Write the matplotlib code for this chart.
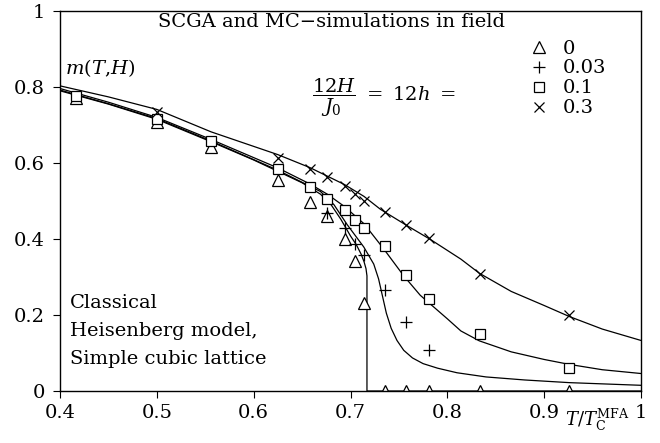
import numpy as np
import matplotlib
matplotlib.use('Agg')
import matplotlib.pyplot as plt

plt.rcParams['font.family'] = 'DejaVu Serif'
plt.rcParams['mathtext.fontset'] = 'dejavuserif'

# MC points, T/Tc^MFA
t_mc = [0.4167, 0.5, 0.5556, 0.625, 0.6579, 0.6757, 0.6944, 0.7042, 0.7143, 0.7353, 0.7576, 0.7813, 0.8333, 0.9259]
m_h0 = [0.770, 0.708, 0.641, 0.556, 0.497, 0.461, 0.400, 0.342, 0.232, 0.0, 0.0, 0.0, 0.0, 0.0]
m_h01 = [0.776, 0.717, 0.659, 0.584, 0.536, 0.505, 0.476, 0.451, 0.429, 0.381, 0.305, 0.241, 0.149, 0.061]

t_h003 = [0.6757, 0.6944, 0.7042, 0.7143, 0.7353, 0.7576, 0.7813]
m_h003 = [0.468, 0.429, 0.388, 0.357, 0.267, 0.182, 0.109]

t_h03 = [0.5, 0.625, 0.6579, 0.6757, 0.6944, 0.7042, 0.7143, 0.7353, 0.7576, 0.7813, 0.8333, 0.9259]
m_h03 = [0.735, 0.614, 0.583, 0.563, 0.539, 0.519, 0.500, 0.470, 0.438, 0.403, 0.308, 0.199]

# SCGA curves
sc_t0 = [0.4, 0.45, 0.5, 0.556, 0.6, 0.625, 0.65, 0.669, 0.68, 0.69, 0.70, 0.706, 0.711, 0.714, 0.716, 0.717, 0.717, 1.0]
sc_m0 = [0.790, 0.755, 0.715, 0.656, 0.608, 0.578, 0.548, 0.518, 0.490, 0.452, 0.408, 0.385, 0.360, 0.340, 0.322, 0.303, 0.0, 0.0]

sc_t003 = [0.4, 0.45, 0.5, 0.556, 0.625, 0.669, 0.683, 0.6965, 0.7137, 0.724, 0.729, 0.733, 0.737, 0.742, 0.748,
           0.755, 0.764, 0.775, 0.79, 0.81, 0.84, 0.88, 0.926, 1.0]
sc_m003 = [0.792, 0.756, 0.717, 0.658, 0.581, 0.525, 0.490, 0.438, 0.379, 0.334, 0.295, 0.250, 0.205, 0.165, 0.133,
           0.107, 0.087, 0.072, 0.060, 0.048, 0.037, 0.029, 0.022, 0.015]

sc_t01 = [0.4, 0.45, 0.5, 0.556, 0.625, 0.658, 0.676, 0.694, 0.714, 0.734, 0.755, 0.772, 0.781, 0.8, 0.814,
          0.833, 0.866, 0.9, 0.926, 0.96, 1.0]
sc_m01 = [0.796, 0.760, 0.720, 0.662, 0.587, 0.545, 0.518, 0.485, 0.440, 0.375, 0.303, 0.252, 0.232, 0.190, 0.158,
          0.132, 0.103, 0.083, 0.070, 0.056, 0.046]

sc_t03 = [0.4, 0.45, 0.5, 0.556, 0.625, 0.658, 0.694, 0.714, 0.731, 0.7585, 0.783, 0.814, 0.833, 0.866, 0.9,
          0.926, 0.96, 1.0]
sc_m03 = [0.803, 0.774, 0.741, 0.682, 0.622, 0.588, 0.543, 0.512, 0.478, 0.435, 0.398, 0.347, 0.310, 0.262, 0.225,
          0.196, 0.163, 0.133]

legend_labels = ['0', '0.03', '0.1', '0.3']

fig = plt.figure(figsize=(6.6, 4.43), dpi=100)
ax = fig.add_axes([60/660, 52/443, 581/660, 380/443])

lw = 0.9
for t, m in [(sc_t0, sc_m0), (sc_t003, sc_m003), (sc_t01, sc_m01), (sc_t03, sc_m03)]:
    ax.plot(t, m, color='black', lw=lw)

p0, = ax.plot(t_mc, m_h0, ls='none', marker='^', ms=8, mfc='white', mec='black', mew=0.9)
p1, = ax.plot(t_h003, m_h003, ls='none', marker='+', ms=9, mec='black', mew=0.9)
p2, = ax.plot(t_mc, m_h01, ls='none', marker='s', ms=6.5, mfc='white', mec='black', mew=0.9)
p3, = ax.plot(t_h03, m_h03, ls='none', marker='x', ms=7, mec='black', mew=0.9)

ax.set_xlim(0.4, 1.0)
ax.set_ylim(0, 1)
ax.set_xticks([0.4, 0.5, 0.6, 0.7, 0.8, 0.9, 1.0])
ax.set_xticklabels(['0.4', '0.5', '0.6', '0.7', '0.8', '0.9', '1'])
ax.set_yticks([0, 0.2, 0.4, 0.6, 0.8, 1.0])
ax.set_yticklabels(['0', '0.2', '0.4', '0.6', '0.8', '1'])
ax.tick_params(direction='out', length=5, width=0.8, labelsize=14)
ax.tick_params(axis='x', pad=4)
ax.tick_params(axis='y', pad=6)
for s in ax.spines.values():
    s.set_linewidth(1.0)

ax.text(0.68, 0.972, 'SCGA and MC\u2212simulations in field', ha='center', va='center', fontsize=14)
ax.text(0.405, 0.85, r'$m(T,\!H)$', ha='left', va='center', fontsize=14)
ax.text(0.66, 0.77, r'$\dfrac{12H}{J_0}\ =\ 12h\ =$', ha='left', va='center', fontsize=14)
ax.text(0.41, 0.232, 'Classical', ha='left', va='center', fontsize=14)
ax.text(0.41, 0.158, 'Heisenberg model,', ha='left', va='center', fontsize=14)
ax.text(0.41, 0.084, 'Simple cubic lattice', ha='left', va='center', fontsize=14)
ax.text(0.988, -0.042, r'$T/T_{\rm C}^{\rm MFA}$', ha='right', va='top', fontsize=13)

ax.legend([p0, p1, p2, p3], legend_labels, loc='upper left', bbox_to_anchor=(0.808, 0.925),
          frameon=False, fontsize=14, handlelength=1.0, handletextpad=0.7, labelspacing=0.1,
          borderaxespad=0, borderpad=0)

fig.savefig('out.png', dpi=100)
